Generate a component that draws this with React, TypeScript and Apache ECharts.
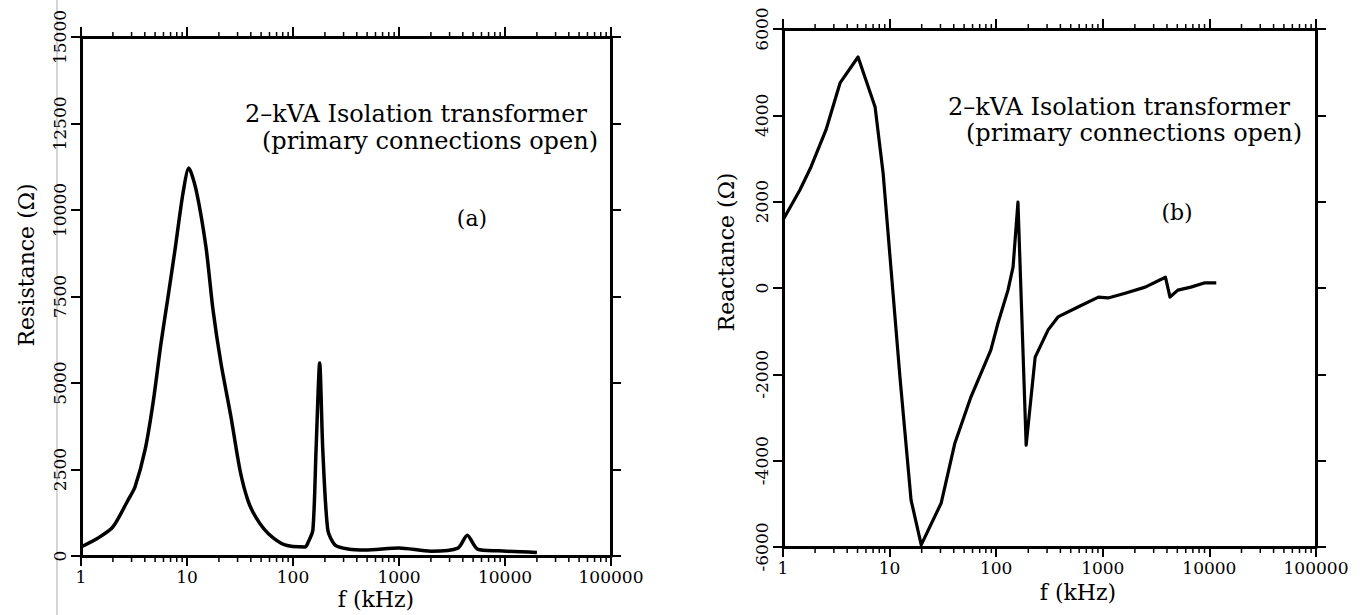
import React, { useEffect, useRef } from "react";
import * as echarts from "echarts";

// ---- Data: (a) Resistance vs frequency ----
const freqA = [1, 1.45, 2.0, 2.78, 3.23, 4.02, 4.78, 5.69, 6.62, 7.7, 9.17, 10.4, 12.2, 15.1, 17.6, 20.9, 26.0, 31.6, 37.6, 45, 58, 84, 130, 138, 154, 165, 178.6, 191, 213, 249, 330, 480, 1000, 2000, 3600, 4400, 5500, 8600, 20000];
const resistance = [260, 520, 840, 1618, 1994, 3064, 4422, 6156, 7485, 8843, 10490, 11213, 10577, 8930, 7109, 5578, 4017, 2485, 1600, 1100, 660, 320, 260, 375, 751, 3063, 5578, 3063, 751, 318, 200, 170, 230, 140, 230, 600, 200, 150, 100];

// ---- Data: (b) Reactance vs frequency ----
const freqB = [1, 1.44, 1.83, 2.53, 3.43, 5.06, 7.31, 8.69, 12.5, 15.9, 19.8, 30.5, 41, 58, 89, 104, 129, 144, 160, 191, 232, 307, 380, 585, 910, 1120, 1620, 2500, 3870, 4270, 5060, 6700, 9100, 11600];
const reactance = [1576, 2271, 2804, 3661, 4750, 5352, 4194, 2665, -2060, -4912, -5950, -4980, -3590, -2520, -1440, -810, -50, 490, 1990, -3640, -1600, -970, -670, -440, -210, -230, -120, 20, 250, -210, -50, 20, 120, 120];

// ---- Axis ticks ----
const xMajorTicks = [1, 10, 100, 1000, 10000, 100000];
const xMinorTicks = [
  2, 3, 4, 5, 6, 7, 8, 9,
  20, 30, 40, 50, 60, 70, 80, 90,
  200, 300, 400, 500, 600, 700, 800, 900,
  2000, 3000, 4000, 5000, 6000, 7000, 8000, 9000,
  20000, 30000, 40000, 50000, 60000, 70000, 80000, 90000,
];
const yRangeA = [0, 15000];
const yRangeB = [-6000, 6000];

const FONT = "DejaVu Serif";

function minorTickSeries(axisIdx: number, yMin: number, yMax: number) {
  return {
    type: "custom",
    xAxisIndex: axisIdx,
    yAxisIndex: axisIdx,
    silent: true,
    clip: false,
    z: 5,
    data: xMinorTicks.map((v) => [v, yMin]),
    renderItem: (params: any, api: any) => {
      const f = api.value(0);
      const pb = api.coord([f, yMin]);
      const pt = api.coord([f, yMax]);
      const st = { stroke: "#000", lineWidth: 1.5 };
      return {
        type: "group",
        children: [
          { type: "line", shape: { x1: pb[0], y1: pb[1], x2: pb[0], y2: pb[1] + 6 }, style: st },
          { type: "line", shape: { x1: pt[0], y1: pt[1], x2: pt[0], y2: pt[1] - 5 }, style: st },
        ],
      };
    },
  };
}

function xAxes(grid: number) {
  const common = {
    gridIndex: grid,
    type: "log",
    logBase: 10,
    min: xMajorTicks[0],
    max: xMajorTicks[xMajorTicks.length - 1],
    axisLine: { show: true, onZero: false, lineStyle: { color: "#000", width: 3 } },
    axisTick: { show: true, length: 10, inside: false, lineStyle: { color: "#000", width: 2 } },
    splitLine: { show: false },
    minorTick: { show: false },
  };
  return [
    {
      ...common,
      position: "bottom",
      axisLabel: {
        show: true,
        color: "#000",
        fontFamily: FONT,
        fontSize: 17,
        margin: 12,
        formatter: (v: number) => String(Math.round(v)),
      },
    },
    { ...common, position: "top", axisLabel: { show: false } },
  ];
}

function yAxes(grid: number, range: number[], interval: number) {
  const common = {
    gridIndex: grid,
    type: "value",
    min: range[0],
    max: range[1],
    interval,
    axisLine: { show: true, onZero: false, lineStyle: { color: "#000", width: 3 } },
    axisTick: { show: true, length: 10, inside: false, lineStyle: { color: "#000", width: 2 } },
    splitLine: { show: false },
  };
  return [
    {
      ...common,
      position: "left",
      axisLabel: {
        show: true,
        rotate: 90,
        color: "#000",
        fontFamily: FONT,
        fontSize: 17,
        margin: 13,
        formatter: (v: number) => String(v),
      },
    },
    { ...common, position: "right", axisLabel: { show: false } },
  ];
}

export default function App() {
  const ref = useRef<HTMLDivElement>(null);
  useEffect(() => {
    if (!ref.current) return;
    const chart = echarts.init(ref.current, null, { renderer: "svg" });
    const xa = xAxes(0);
    const xb = xAxes(1);
    const ya = yAxes(0, yRangeA, 2500);
    const yb = yAxes(1, yRangeB, 2000);
    const option: any = {
      animation: false,
      backgroundColor: "#fff",
      grid: [
        { left: 81, top: 37, width: 530, height: 519 },
        { left: 783, top: 29, width: 533, height: 518 },
      ],
      xAxis: [xa[0], xb[0], xa[1], xb[1]],
      yAxis: [ya[0], yb[0], ya[1], yb[1]],
      series: [
        {
          type: "line",
          xAxisIndex: 0,
          yAxisIndex: 0,
          data: freqA.map((f, i) => [f, resistance[i]]),
          showSymbol: false,
          smooth: 0.25,
          lineStyle: { color: "#000", width: 3.5, join: "round" },
          z: 3,
        },
        {
          type: "line",
          xAxisIndex: 1,
          yAxisIndex: 1,
          data: freqB.map((f, i) => [f, reactance[i]]),
          showSymbol: false,
          smooth: false,
          lineStyle: { color: "#000", width: 3.2, join: "round" },
          z: 3,
        },
        minorTickSeries(0, yRangeA[0], yRangeA[1]),
        minorTickSeries(1, yRangeB[0], yRangeB[1]),
      ],
      graphic: [
        { type: "line", shape: { x1: 57, y1: 0, x2: 57, y2: 615 }, style: { stroke: "#aaa", lineWidth: 1 }, z: 0 },
        // axis titles
        { type: "text", x: 26, y: 265, rotation: Math.PI / 2, style: { text: "Resistance (Ω)", font: `22px '${FONT}'`, fill: "#000", align: "center", verticalAlign: "middle" } },
        { type: "text", x: 376, y: 599, style: { text: "f (kHz)", font: `22px '${FONT}'`, fill: "#000", align: "center", verticalAlign: "middle" } },
        { type: "text", x: 726, y: 252, rotation: Math.PI / 2, style: { text: "Reactance (Ω)", font: `22px '${FONT}'`, fill: "#000", align: "center", verticalAlign: "middle" } },
        { type: "text", x: 1078, y: 592, style: { text: "f (kHz)", font: `22px '${FONT}'`, fill: "#000", align: "center", verticalAlign: "middle" } },
        // annotations (a)
        { type: "text", x: 587, y: 114, style: { text: "2–kVA Isolation transformer", font: `24px '${FONT}'`, fill: "#000", align: "right", verticalAlign: "middle" } },
        { type: "text", x: 598, y: 141, style: { text: "(primary connections open)", font: `24px '${FONT}'`, fill: "#000", align: "right", verticalAlign: "middle" } },
        { type: "text", x: 472, y: 218, style: { text: "(a)", font: `22px '${FONT}'`, fill: "#000", align: "center", verticalAlign: "middle" } },
        // annotations (b)
        { type: "text", x: 1290, y: 107, style: { text: "2–kVA Isolation transformer", font: `24px '${FONT}'`, fill: "#000", align: "right", verticalAlign: "middle" } },
        { type: "text", x: 1302, y: 133, style: { text: "(primary connections open)", font: `24px '${FONT}'`, fill: "#000", align: "right", verticalAlign: "middle" } },
        { type: "text", x: 1177, y: 212, style: { text: "(b)", font: `22px '${FONT}'`, fill: "#000", align: "center", verticalAlign: "middle" } },
      ],
    };
    chart.setOption(option);
    return () => chart.dispose();
  }, []);
  return (
    <div
      ref={ref}
      style={{ position: "absolute", left: 0, top: 0, width: 1369, height: 615, background: "#fff" }}
    />
  );
}
